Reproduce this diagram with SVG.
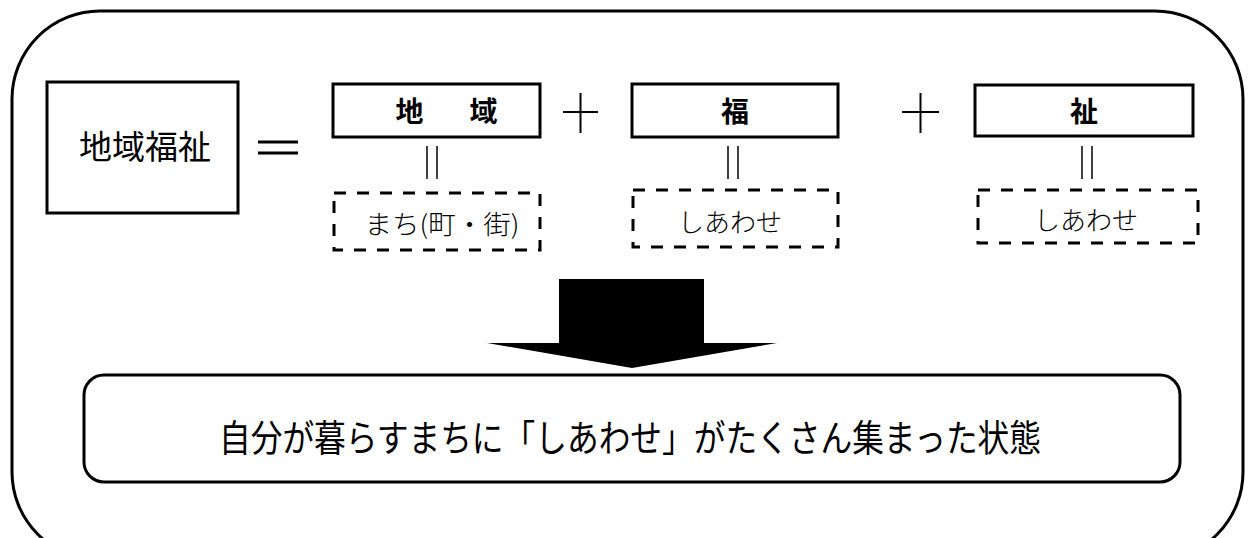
<svg xmlns="http://www.w3.org/2000/svg" width="1250" height="538" viewBox="0 0 1250 538">
<style>
.box{fill:#fff;stroke:#000;stroke-width:3}
.dash{fill:none;stroke:#000;stroke-width:3;stroke-dasharray:12 11}
.ln{stroke:#000;stroke-width:1.5;fill:none}
.pl{stroke:#000;stroke-width:2;fill:none}
.op{stroke:#000;stroke-width:3;fill:none}
.t{font-family:"Noto Sans CJK JP","Liberation Sans",sans-serif;fill:#000}
.bold{font-weight:700;font-size:28px}
.light{font-weight:300;font-size:26px}
</style>
<rect x="12" y="11" width="1231" height="549" rx="88" ry="88" fill="#fff" stroke="#000" stroke-width="3"/>
<g id="main">
<rect class="box" x="47" y="82" width="191" height="131"/>
<text class="t" x="145" y="159" font-size="33" text-anchor="middle">地域福祉</text>
</g>
<g id="equals">
<line class="op" x1="258" y1="142" x2="298" y2="142"/>
<line class="op" x1="258" y1="153" x2="298" y2="153"/>
</g>
<g id="chiiki">
<rect class="box" x="333" y="84" width="207" height="53"/>
<text class="t bold" x="451" y="122" text-anchor="middle" letter-spacing="9">地　域</text>
</g>
<g id="plus1">
<line class="pl" x1="563" y1="112" x2="598" y2="112"/>
<line class="pl" x1="580.5" y1="93" x2="580.5" y2="133"/>
</g>
<g id="fuku">
<rect class="box" x="632" y="84" width="206" height="53"/>
<text class="t bold" x="735" y="122" text-anchor="middle">福</text>
</g>
<g id="plus2">
<line class="pl" x1="902" y1="112" x2="939" y2="112"/>
<line class="pl" x1="920.5" y1="93" x2="920.5" y2="133"/>
</g>
<g id="shi">
<rect class="box" x="975" y="85" width="218" height="51"/>
<text class="t bold" x="1084" y="122" text-anchor="middle">祉</text>
</g>
<g id="connectors">
<line class="ln" x1="427" y1="146" x2="427" y2="179"/>
<line class="ln" x1="437" y1="146" x2="437" y2="179"/>
<line class="ln" x1="728" y1="146" x2="728" y2="179"/>
<line class="ln" x1="738" y1="146" x2="738" y2="179"/>
<line class="ln" x1="1082" y1="146" x2="1082" y2="179"/>
<line class="ln" x1="1092" y1="146" x2="1092" y2="179"/>
<polygon points="559,279 704,279 704,343 777,343 632,368 487,343 559,343" fill="#000"/>
</g>
<g id="machi">
<rect class="dash" x="334" y="193" width="206" height="57"/>
<text class="t light" x="442" y="234" text-anchor="middle" textLength="155" lengthAdjust="spacingAndGlyphs">まち(町・街)</text>
</g>
<g id="shiawase1">
<rect class="dash" x="633" y="190" width="205" height="57"/>
<text class="t light" x="730" y="232" text-anchor="middle">しあわせ</text>
</g>
<g id="shiawase2">
<rect class="dash" x="978" y="190" width="220" height="53"/>
<text class="t light" x="1086" y="230" text-anchor="middle">しあわせ</text>
</g>
<g id="result">
<rect class="box" x="84" y="375" width="1096" height="107" rx="20" ry="20"/>
<text class="t" x="630" y="452" font-size="37" text-anchor="middle" textLength="822" lengthAdjust="spacingAndGlyphs">自分が暮らすまちに「しあわせ」がたくさん集まった状態</text>
</g>
</svg>
